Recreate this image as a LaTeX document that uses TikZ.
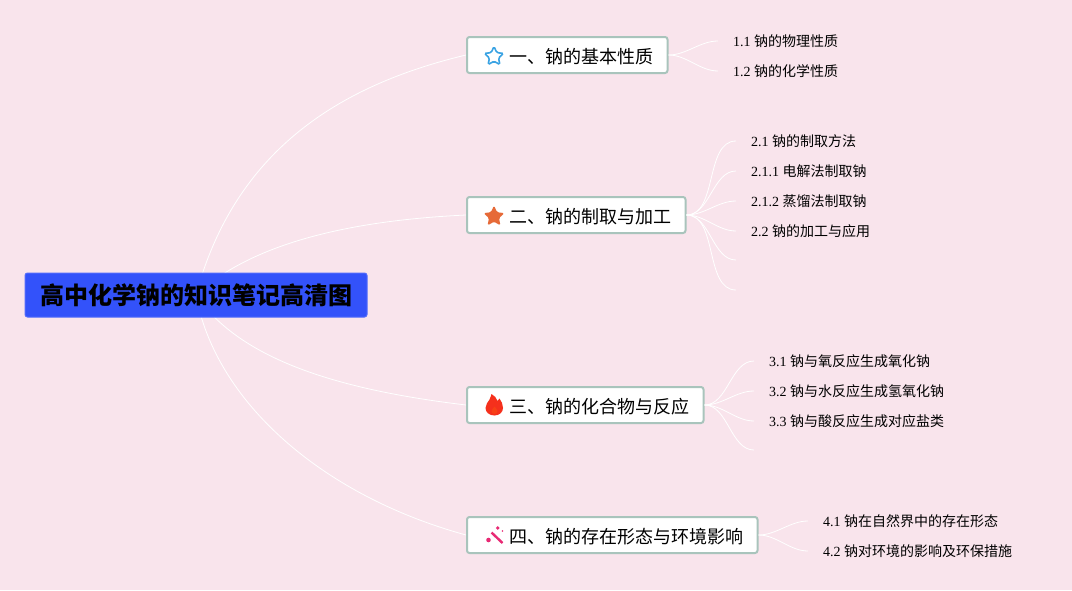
\documentclass[tikz,border=0pt]{standalone}
\usepackage{fontspec}
\setmainfont{Liberation Serif}
\newfontfamily\cjk{Noto Sans CJK SC}
\usepackage{xcolor}
\usetikzlibrary{backgrounds,shapes.geometric}
\definecolor{paper}{HTML}{F9E4EC}
\definecolor{rootblue}{HTML}{3352FA}
\definecolor{boxline}{HTML}{A9C4BC}
\definecolor{starblue}{HTML}{3AA3E3}
\definecolor{starorange}{HTML}{E66A38}
\definecolor{flamered}{HTML}{F5301C}
\definecolor{wandpink}{HTML}{E82A74}
\begin{document}
\begin{tikzpicture}[x=1pt,y=-1pt,
  root node/.style={rectangle,fill=rootblue,draw=rootblue!85!white,line width=1pt,rounded corners=2.5pt,
    inner xsep=14.5pt,inner ysep=0pt,minimum height=44pt,font=\cjk\fontsize{24}{24}\selectfont\bfseries},
  branch node/.style={rectangle,anchor=west,fill=white,draw=boxline,line width=2pt,rounded corners=2.5pt,
    inner xsep=14.5pt,inner ysep=0pt,minimum height=36pt,text height=18.5pt,text depth=2pt,
    font=\cjk\fontsize{18}{18}\selectfont},
  leaf node/.style={anchor=west,inner xsep=15pt,inner ysep=2pt,font=\fontsize{14}{14}\selectfont},
  star icon/.style={star,star points=5,star point ratio=2.1,minimum size=22pt,inner sep=0pt,rounded corners=1.5pt},
  link/.style={draw=white,line width=0.8pt},
  twig/.style={draw=white,line width=0.8pt,out=0,in=180,looseness=0.9}]

  \node[root node] (root) at (196,295) {\hspace{1pt}高中化学钠的知识笔记高清图};

  \node[branch node] (b1) at (466,55) {\hspace{27.5pt}一、钠的基本性质};
  \node[branch node] (b2) at (466,215) {\hspace{27.5pt}二、钠的制取与加工};
  \node[branch node] (b3) at (466,405) {\hspace{27.5pt}三、钠的化合物与反应};
  \node[branch node] (b4) at (466,535) {\hspace{27.5pt}四、钠的存在形态与环境影响};

  \node[star icon,draw=starblue,line width=1.6pt,minimum size=20pt] (i1) at ([xshift=28pt,yshift=-1.5pt]b1.west) {};
  \node[star icon,fill=starorange] (i2) at ([xshift=28pt,yshift=-1.5pt]b2.west) {};

  \node[leaf node] (l11) at (718,41) {1.1 {\cjk 钠的物理性质}};
  \node[leaf node] (l12) at (718,71) {1.2 {\cjk 钠的化学性质}};
  \node[leaf node] (l21) at (736,141) {2.1 {\cjk 钠的制取方法}};
  \node[leaf node] (l22) at (736,171) {2.1.1 {\cjk 电解法制取钠}};
  \node[leaf node] (l23) at (736,201) {2.1.2 {\cjk 蒸馏法制取钠}};
  \node[leaf node] (l24) at (736,231) {2.2 {\cjk 钠的加工与应用}};
  \node[leaf node] (l31) at (754,361) {3.1 {\cjk 钠与氧反应生成氧化钠}};
  \node[leaf node] (l32) at (754,391) {3.2 {\cjk 钠与水反应生成氢氧化钠}};
  \node[leaf node] (l33) at (754,421) {3.3 {\cjk 钠与酸反应生成对应盐类}};
  \node[leaf node] (l41) at (808,521) {4.1 {\cjk 钠在自然界中的存在形态}};
  \node[leaf node] (l42) at (808,551) {4.2 {\cjk 钠对环境的影响及环保措施}};

  \coordinate (e25) at (736,260);
  \coordinate (e26) at (736,290);
  \coordinate (e34) at (754,450);

  % flame and wand icons
  \fill[flamered] (494.5,415.5) .. controls (489,415.5) and (485.5,412) .. (485.5,408)
    .. controls (485.5,404.5) and (488,402) .. (489.5,399.5) .. controls (490.5,397.5) and (491,395.5) .. (491.5,394)
    .. controls (494.5,395.5) and (496.5,398) .. (497.5,401) .. controls (498.5,400.5) and (499,399.5) .. (499.5,398.5)
    .. controls (501.5,401) and (503,404.5) .. (503,408) .. controls (503,412) and (499.5,415.5) .. (494.5,415.5) -- cycle;
  \fill[flamered!80!orange] (494.5,414) .. controls (492.5,414) and (491.5,412.5) .. (491.5,411)
    .. controls (491.5,409.5) and (493.5,408.5) .. (494.5,406.5) .. controls (496,408.5) and (497.5,409.5) .. (497.5,411)
    .. controls (497.5,412.5) and (496.5,414) .. (494.5,414) -- cycle;
  \draw[wandpink,line width=2.4pt] (491.5,532.5) -- (502.5,543);
  \fill[wandpink] (497.8,528) circle (1.9pt) (488.5,540) circle (2.3pt) (502.5,531) circle (0.9pt);

  \begin{scope}[on background layer]
    \fill[paper] (0,0) rectangle (1072,590);
    \draw[link] (root.center) .. controls (235,150) and (340,85) .. (b1.west);
    \draw[link] (root.center) .. controls (255,240) and (360,220) .. (b2.west);
    \draw[link] (root.center) .. controls (240,360) and (340,390) .. (b3.west);
    \draw[link] (root.center) .. controls (215,400) and (320,495) .. (b4.west);
  \end{scope}

  \path[twig]
     (b1.east) edge (l11.west)
     (b1.east) edge (l12.west)
     (b2.east) edge (l21.west)
     (b2.east) edge (l22.west)
     (b2.east) edge (l23.west)
     (b2.east) edge (l24.west)
     (b2.east) edge (e25)
     (b2.east) edge (e26)
     (b3.east) edge (l31.west)
     (b3.east) edge (l32.west)
     (b3.east) edge (l33.west)
     (b3.east) edge (e34)
     (b4.east) edge (l41.west)
     (b4.east) edge (l42.west);
\end{tikzpicture}
\end{document}
